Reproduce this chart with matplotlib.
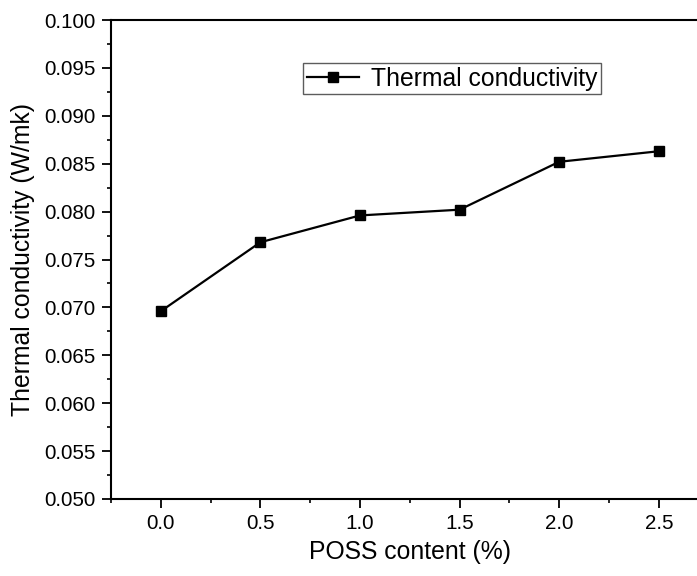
import matplotlib
matplotlib.use("Agg")
import matplotlib.pyplot as plt
from matplotlib.ticker import MultipleLocator

plt.rcParams['font.family'] = ['Liberation Sans', 'DejaVu Sans']

poss_content = [0.0, 0.5, 1.0, 1.5, 2.0, 2.5]
thermal_conductivity = [0.0696, 0.0768, 0.0796, 0.0802, 0.0852, 0.0863]
x_ticks = [0.0, 0.5, 1.0, 1.5, 2.0, 2.5]
y_ticks = [0.050, 0.055, 0.060, 0.065, 0.070, 0.075, 0.080, 0.085, 0.090, 0.095, 0.100]

fig = plt.figure(figsize=(6.97, 5.76), dpi=100)
ax = fig.add_axes([111/697, 1-499/576, 597.6/697, (499-20)/576])

ax.plot(poss_content, thermal_conductivity, color='black', lw=1.6,
        marker='s', markersize=7.5, label='Thermal conductivity')

ax.set_xlim(-0.25, 2.75)
ax.set_ylim(0.050, 0.100)
ax.set_xticks(x_ticks)
ax.set_xticklabels([f"{v:.1f}" for v in x_ticks])
ax.set_yticks(y_ticks)
ax.set_yticklabels([f"{v:.3f}" for v in y_ticks])
ax.xaxis.set_minor_locator(MultipleLocator(0.25))
ax.yaxis.set_minor_locator(MultipleLocator(0.0025))

for s in ax.spines.values():
    s.set_linewidth(1.5)
ax.tick_params(which='major', direction='out', length=6.5, width=1.3, labelsize=14.9)
ax.tick_params(which='minor', direction='out', length=3, width=1.2)
ax.tick_params(axis='x', which='major', pad=4)
ax.tick_params(axis='y', which='major', pad=4.5)

ax.set_xlabel('POSS content (%)', fontsize=17.8, labelpad=5)
ax.set_ylabel('Thermal conductivity (W/mk)', fontsize=17.8, labelpad=7)

leg = fig.legend(loc='upper left', bbox_to_anchor=(303/697, 1-63/576),
                 fontsize=17.8, frameon=True, fancybox=False, borderaxespad=0,
                 borderpad=0.15, handlelength=2.1, handletextpad=0.5)
leg.get_frame().set_edgecolor('#333333')
leg.get_frame().set_linewidth(1.0)

fig.savefig('out.png', dpi=100)
